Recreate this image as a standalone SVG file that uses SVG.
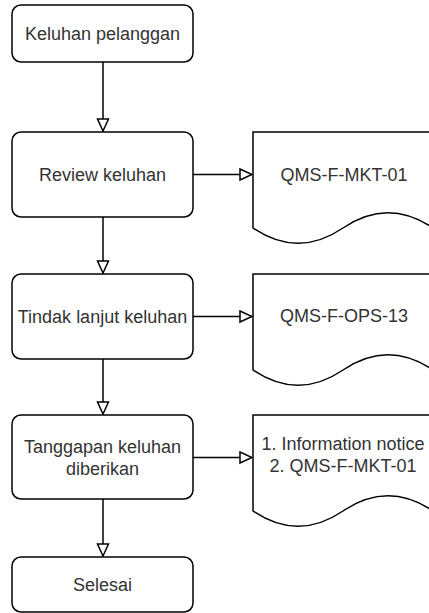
<svg xmlns="http://www.w3.org/2000/svg" width="429" height="613" viewBox="0 0 429 613">
<style>
.box{fill:#fff;stroke:#000;stroke-width:1.5}
.doc{fill:#fff;stroke:#000;stroke-width:1.5}
.lbl{font-family:"Liberation Sans",Arial,sans-serif;font-size:18px;fill:#333;text-anchor:middle}
.edge{fill:none;stroke:#000;stroke-width:1.5;marker-end:url(#arr)}
</style>
<defs>
<marker id="arr" viewBox="-1 -1 14 14" refX="12" refY="6" markerWidth="14" markerHeight="14" markerUnits="userSpaceOnUse" orient="auto">
<path d="M0,0.5 L12,6 L0,11.5 Z" fill="#fff" stroke="#000" stroke-width="1.5"/>
</marker>
</defs>
<rect width="429" height="613" fill="#fff"/>
<g id="connectors">
<path class="edge" d="M103,62 V131"/>
<path class="edge" d="M103,217 V273"/>
<path class="edge" d="M103,359 V414"/>
<path class="edge" d="M103,499 V556"/>
<path class="edge" d="M193,174.5 H252"/>
<path class="edge" d="M193,316.5 H252"/>
<path class="edge" d="M193,457.5 H252"/>
</g>
<g id="n1">
<rect class="box" x="12" y="5" width="181" height="57" rx="9"/>
<text class="lbl" x="102.5" y="39.5">Keluhan pelanggan</text>
</g>
<g id="n2">
<rect class="box" x="12" y="132" width="181" height="85" rx="9"/>
<text class="lbl" x="102.5" y="181">Review keluhan</text>
</g>
<g id="n3">
<rect class="box" x="12" y="274" width="181" height="85" rx="9"/>
<text class="lbl" x="102.5" y="323">Tindak lanjut keluhan</text>
</g>
<g id="n4">
<rect class="box" x="12" y="415" width="181" height="84" rx="9"/>
<text class="lbl" x="102.5" y="453">Tanggapan keluhan</text>
<text class="lbl" x="102.5" y="474.5">diberikan</text>
</g>
<g id="n5">
<rect class="box" x="12" y="557" width="181" height="55" rx="9"/>
<text class="lbl" x="102.5" y="591">Selesai</text>
</g>
<g id="d1">
<path class="doc" d="M253,132 H433 V228 Q388,197.5 343,228 Q298,258.6 253,228 Z"/>
<text class="lbl" x="344" y="180.5">QMS-F-MKT-01</text>
</g>
<g id="d2">
<path class="doc" d="M253,274 H433 V370 Q388,339.5 343,370 Q298,400.6 253,370 Z"/>
<text class="lbl" x="344" y="322">QMS-F-OPS-13</text>
</g>
<g id="d3">
<path class="doc" d="M253,415 H433 V511 Q388,480.5 343,511 Q298,541.6 253,511 Z"/>
<text class="lbl" x="343" y="450">1. Information notice</text>
<text class="lbl" x="343" y="471.6">2. QMS-F-MKT-01</text>
</g>
</svg>
